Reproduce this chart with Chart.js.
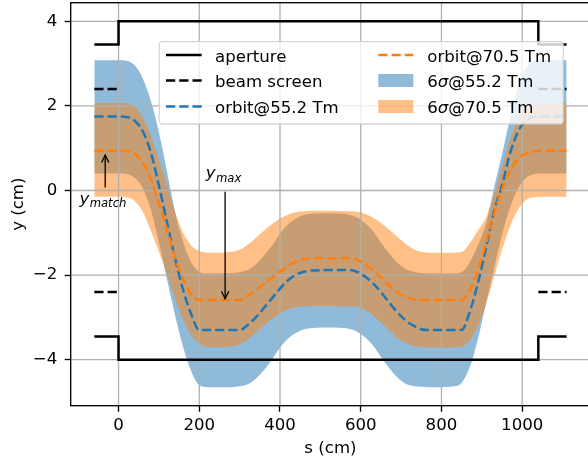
<!DOCTYPE html>
<html><head><meta charset="utf-8">
<script src="https://cdn.jsdelivr.net/npm/chart.js@4.4.1/dist/chart.umd.min.js"></script>
<style>html,body{margin:0;padding:0;overflow:hidden;background:#fff;width:588px;height:464px}canvas{display:block}</style>
</head><body>
<canvas id="c" width="600" height="464"></canvas>
<script>
// ---- data (s in cm, y in cm) ----
const sPos = [-60, 0, 20, 40, 60, 80, 100, 120, 140, 160, 180, 200, 220, 250, 280, 300, 320, 340, 360, 380, 400, 420, 440, 460, 480, 525,
  570, 590, 610, 630, 650, 670, 690, 710, 730, 750, 770, 800, 830, 850, 870, 890, 910, 930, 950, 970, 990, 1010, 1030, 1050, 1110];
const orbit55 = [1.75, 1.75, 1.74, 1.65, 1.40, 0.90, 0.12, -0.75, -1.60, -2.35, -2.92, -3.30, -3.30, -3.30, -3.30, -3.30, -3.18, -3.00, -2.78, -2.55, -2.32, -2.12, -1.99, -1.92, -1.89, -1.88,
  -1.88, -1.92, -2.03, -2.19, -2.40, -2.64, -2.87, -3.06, -3.19, -3.28, -3.30, -3.30, -3.30, -3.30, -2.87, -2.20, -1.38, -0.50, 0.12, 0.88, 1.40, 1.66, 1.74, 1.75, 1.75];
const orbit70 = [0.94, 0.94, 0.93, 0.87, 0.66, 0.26, -0.30, -0.93, -1.58, -2.10, -2.45, -2.59, -2.59, -2.59, -2.59, -2.59, -2.49, -2.36, -2.21, -2.06, -1.92, -1.78, -1.68, -1.62, -1.60, -1.60,
  -1.60, -1.63, -1.74, -1.89, -2.05, -2.24, -2.40, -2.51, -2.57, -2.59, -2.59, -2.59, -2.59, -2.59, -2.37, -1.90, -1.25, -0.57, 0.02, 0.47, 0.75, 0.88, 0.93, 0.94, 0.94];
const sigma55Upper = [3.08, 3.08, 3.07, 2.96, 2.65, 2.12, 1.38, 0.45, -0.50, -1.22, -1.70, -1.92, -1.96, -1.96, -1.95, -1.93, -1.88, -1.75, -1.55, -1.30, -1.02, -0.80, -0.66, -0.58, -0.55, -0.54,
  -0.57, -0.63, -0.76, -0.96, -1.23, -1.48, -1.70, -1.85, -1.92, -1.95, -1.96, -1.96, -1.96, -1.93, -1.70, -1.30, -0.80, 0.05, 0.85, 1.70, 2.45, 2.90, 3.06, 3.08, 3.08];
const sigma55Lower = [0.40, 0.40, 0.39, 0.30, 0.05, -0.45, -1.23, -2.10, -2.95, -3.70, -4.27, -4.60, -4.65, -4.65, -4.65, -4.63, -4.58, -4.45, -4.25, -4.00, -3.72, -3.50, -3.36, -3.28, -3.25, -3.24,
  -3.27, -3.33, -3.46, -3.66, -3.93, -4.19, -4.41, -4.56, -4.62, -4.64, -4.65, -4.65, -4.63, -4.55, -4.18, -3.52, -2.68, -1.85, -1.05, -0.40, 0.05, 0.30, 0.39, 0.40, 0.40];
const sigma70Upper = [2.07, 2.07, 2.06, 1.98, 1.72, 1.30, 0.72, 0.15, -0.50, -1.00, -1.30, -1.43, -1.47, -1.47, -1.45, -1.40, -1.28, -1.12, -0.95, -0.80, -0.66, -0.57, -0.51, -0.49, -0.48, -0.48,
  -0.49, -0.50, -0.55, -0.64, -0.77, -0.92, -1.09, -1.25, -1.38, -1.45, -1.47, -1.47, -1.47, -1.45, -1.25, -0.95, -0.65, -0.10, 0.55, 1.20, 1.70, 1.97, 2.06, 2.07, 2.07];
const sigma70Lower = [-0.15, -0.15, -0.16, -0.25, -0.50, -0.95, -1.45, -1.98, -2.55, -3.05, -3.42, -3.62, -3.70, -3.71, -3.69, -3.64, -3.52, -3.36, -3.19, -3.04, -2.90, -2.81, -2.76, -2.74, -2.73, -2.73,
  -2.74, -2.75, -2.82, -2.95, -3.12, -3.30, -3.48, -3.60, -3.67, -3.70, -3.71, -3.71, -3.71, -3.69, -3.55, -3.20, -2.70, -2.05, -1.40, -0.85, -0.45, -0.22, -0.16, -0.15, -0.15];
const apertureS = [-60, 0, 0, 1040, 1040, 1110];
const apertureY = [3.45, 3.45, 4, 4, 3.45, 3.45];
const beamScreenLeftS = [-60, 0];
const beamScreenRightS = [1040, 1110];
const beamScreenY = [2.4, 2.4];
const xTicks = [0, 200, 400, 600, 800, 1000];
const xTickLabels = ['0', '200', '400', '600', '800', '1000'];
const yTicks = [-4, -2, 0, 2, 4];
const yTickLabels = ['\u22124', '\u22122', '0', '2', '4'];
const legendLabels = ['aperture', 'beam screen', 'orbit@55.2 Tm', 'orbit@70.5 Tm', '6\u03c3@55.2 Tm', '6\u03c3@70.5 Tm'];
const xTitle = 's (cm)';
const yTitle = 'y (cm)';

// ---- styling ----
const FONT = 'DejaVu Sans';
const FS = 16.6;
const C0 = '#1f77b4', C1 = '#ff7f0e';
const DASH = [9.25, 4];
const LW = 2.5;

const pts = (xs, ys) => xs.map((x, i) => ({x: x, y: ys[i]}));
const neg = a => a.map(v => -v);

function bandDs(ys, fill, color, order) {
  return {data: pts(sPos, ys), fill: fill, backgroundColor: color, borderColor: 'rgba(0,0,0,0)',
    borderWidth: 0, pointRadius: 0, cubicInterpolationMode: 'monotone', order: order};
}
function lineDs(xs, ys, color, dash, order, smooth) {
  return {data: pts(xs, ys), borderColor: color, borderWidth: LW, borderDash: dash, pointRadius: 0,
    fill: false, order: order, cubicInterpolationMode: smooth ? 'monotone' : 'default', tension: 0,
    borderCapStyle: 'butt', borderJoinStyle: 'miter'};
}

const datasets = [
  bandDs(sigma55Upper, {target: 1}, 'rgba(31,119,180,0.5)', 20),
  bandDs(sigma55Lower, false, 'rgba(0,0,0,0)', 19),
  bandDs(sigma70Upper, {target: 3}, 'rgba(255,127,14,0.5)', 18),
  bandDs(sigma70Lower, false, 'rgba(0,0,0,0)', 17),
  lineDs(apertureS, apertureY, '#000', [], 6, false),
  lineDs(apertureS, neg(apertureY), '#000', [], 6, false),
  lineDs(beamScreenLeftS, beamScreenY, '#000', DASH, 5, false),
  lineDs(beamScreenLeftS, neg(beamScreenY), '#000', DASH, 5, false),
  lineDs(beamScreenRightS, beamScreenY, '#000', DASH, 5, false),
  lineDs(beamScreenRightS, neg(beamScreenY), '#000', DASH, 5, false),
  lineDs(sPos, orbit55, C0, DASH, 2, true),
  lineDs(sPos, orbit70, C1, DASH, 1, true)
];

function drawGrid(chart) {
  const ctx = chart.ctx, a = chart.chartArea, xs = chart.scales.x, ys = chart.scales.y;
  ctx.save();
  ctx.beginPath(); ctx.rect(a.left, a.top, a.right - a.left, a.bottom - a.top); ctx.clip();
  ctx.strokeStyle = '#b0b0b0'; ctx.lineWidth = 1.3;
  ctx.beginPath();
  xTicks.forEach(v => { const p = xs.getPixelForValue(v); ctx.moveTo(p, a.top); ctx.lineTo(p, a.bottom); });
  yTicks.forEach(v => { const p = ys.getPixelForValue(v); ctx.moveTo(a.left, p); ctx.lineTo(a.right, p); });
  ctx.stroke();
  ctx.restore();
}

function drawArrow(ctx, x1, y1, x2, y2) {
  ctx.beginPath(); ctx.moveTo(x1, y1); ctx.lineTo(x2, y2); ctx.stroke();
  const ang = Math.atan2(y2 - y1, x2 - x1), L = 7.5, W = 3.6;
  const bx = x2 - L * Math.cos(ang), by = y2 - L * Math.sin(ang);
  const nx = -Math.sin(ang) * W, ny = Math.cos(ang) * W;
  ctx.beginPath(); ctx.moveTo(bx + nx, by + ny); ctx.lineTo(x2, y2); ctx.lineTo(bx - nx, by - ny); ctx.stroke();
}

function drawSubLabel(ctx, x, y, main, sub) {
  ctx.font = 'italic ' + FS + 'px "' + FONT + '"';
  ctx.textBaseline = 'alphabetic'; ctx.textAlign = 'left';
  ctx.fillText(main, x, y);
  const w = ctx.measureText(main).width;
  ctx.font = 'italic ' + (FS * 0.7) + 'px "' + FONT + '"';
  ctx.fillText(sub, x + w + 0.5, y + 3.8);
}

const custom = {
  id: 'custom',
  afterDatasetDraw(chart, args) {
    if (args.index === 3) drawGrid(chart);
  },
  afterDatasetsDraw(chart) {
    const ctx = chart.ctx, a = chart.chartArea, xs = chart.scales.x, ys = chart.scales.y;
    ctx.save();
    // frame
    ctx.strokeStyle = '#000'; ctx.lineWidth = 1.33;
    ctx.strokeRect(a.left, a.top, a.right - a.left, a.bottom - a.top);

    // annotations
    ctx.fillStyle = '#000'; ctx.strokeStyle = '#000'; ctx.lineWidth = 1.3;
    drawArrow(ctx, xs.getPixelForValue(264), ys.getPixelForValue(-0.03), xs.getPixelForValue(264), ys.getPixelForValue(-2.56));
    drawArrow(ctx, xs.getPixelForValue(-33), ys.getPixelForValue(0.07), xs.getPixelForValue(-33), ys.getPixelForValue(0.84));
    drawSubLabel(ctx, xs.getPixelForValue(216), ys.getPixelForValue(0.30), 'y', 'max');
    drawSubLabel(ctx, xs.getPixelForValue(-97), ys.getPixelForValue(-0.31), 'y', 'match');

    // legend
    const L = 159.3, T = 41.7, R = 563.3, B = 124, r = 3.5;
    ctx.beginPath();
    ctx.moveTo(L + r, T); ctx.lineTo(R - r, T); ctx.quadraticCurveTo(R, T, R, T + r);
    ctx.lineTo(R, B - r); ctx.quadraticCurveTo(R, B, R - r, B);
    ctx.lineTo(L + r, B); ctx.quadraticCurveTo(L, B, L, B - r);
    ctx.lineTo(L, T + r); ctx.quadraticCurveTo(L, T, L + r, T); ctx.closePath();
    ctx.fillStyle = 'rgba(255,255,255,0.8)'; ctx.fill();
    ctx.strokeStyle = 'rgba(204,204,204,0.8)'; ctx.lineWidth = 1.3; ctx.stroke();

    const rows = [55, 80.5, 106.5];
    const cols = [{h0: 166, h1: 201.7, t: 215}, {h0: 378.3, h1: 413.3, t: 427.3}];
    const handles = [
      {type: 'line', color: '#000', dash: []},
      {type: 'line', color: '#000', dash: DASH},
      {type: 'line', color: C0, dash: DASH},
      {type: 'line', color: C1, dash: DASH},
      {type: 'patch', color: 'rgba(31,119,180,0.5)'},
      {type: 'patch', color: 'rgba(255,127,14,0.5)'}
    ];
    legendLabels.forEach((lab, i) => {
      const c = cols[Math.floor(i / 3)], y = rows[i % 3], h = handles[i];
      if (h.type === 'line') {
        ctx.save(); ctx.strokeStyle = h.color; ctx.lineWidth = LW; ctx.setLineDash(h.dash); ctx.lineCap = 'butt';
        ctx.beginPath(); ctx.moveTo(c.h0, y); ctx.lineTo(c.h1, y); ctx.stroke(); ctx.restore();
      } else {
        ctx.fillStyle = h.color; ctx.fillRect(c.h0, y - 6.5, c.h1 - c.h0, 13);
      }
      ctx.fillStyle = '#000'; ctx.textBaseline = 'alphabetic'; ctx.textAlign = 'left';
      const parts = lab.split('\u03c3');
      let x = c.t;
      const base = y + 6.6;
      ctx.font = FS + 'px "' + FONT + '"';
      if (parts.length === 2) {
        ctx.fillText(parts[0], x, base); x += ctx.measureText(parts[0]).width;
        ctx.font = 'italic ' + FS + 'px "' + FONT + '"';
        ctx.fillText('\u03c3', x, base); x += ctx.measureText('\u03c3').width;
        ctx.font = FS + 'px "' + FONT + '"';
        ctx.fillText(parts[1], x, base);
      } else {
        ctx.fillText(lab, x, base);
      }
    });
    ctx.restore();
  }
};

Chart.defaults.color = '#000';
Chart.defaults.font.family = FONT;
Chart.defaults.font.size = FS;

new Chart(document.getElementById('c'), {
  type: 'line',
  data: {datasets: datasets},
  plugins: [custom],
  options: {
    responsive: false, animation: false, events: [], devicePixelRatio: 1,
    layout: {padding: {top: 2.7, right: 9.8, left: 0, bottom: 0}},
    plugins: {legend: {display: false}, tooltip: {enabled: false}},
    scales: {
      x: {
        type: 'linear', min: -118.5, max: 1168.5,
        afterBuildTicks: s => { s.ticks = xTicks.map(v => ({value: v})); },
        afterFit: s => { s.height = 58.3; s.paddingLeft = 0; s.paddingRight = 0; s.paddingTop = 0; s.paddingBottom = 0; },
        grid: {display: true, drawOnChartArea: false, drawTicks: true, tickLength: 6, tickWidth: 1.33, tickColor: '#000', color: '#000'},
        border: {display: false},
        ticks: {color: '#000', font: {family: FONT, size: FS}, padding: 4, maxRotation: 0, autoSkip: false,
          callback: (v, i) => xTickLabels[i]},
        title: {display: true, text: xTitle, color: '#000', font: {family: FONT, size: FS}, padding: {top: 0, bottom: 5}}
      },
      y: {
        type: 'linear', min: -5.087, max: 4.44,
        afterBuildTicks: s => { s.ticks = yTicks.map(v => ({value: v})); },
        afterFit: s => { s.width = 70.7; s.paddingLeft = 0; s.paddingRight = 0; s.paddingTop = 0; s.paddingBottom = 0; },
        grid: {display: true, drawOnChartArea: false, drawTicks: true, tickLength: 6, tickWidth: 1.33, tickColor: '#000', color: '#000'},
        border: {display: false},
        ticks: {color: '#000', font: {family: FONT, size: FS}, padding: 7.5, autoSkip: false,
          callback: (v, i) => yTickLabels[i]},
        title: {display: true, text: yTitle, color: '#000', font: {family: FONT, size: FS}, padding: {top: 8.6, bottom: 0}}
      }
    }
  }
});
</script>
</body></html>
